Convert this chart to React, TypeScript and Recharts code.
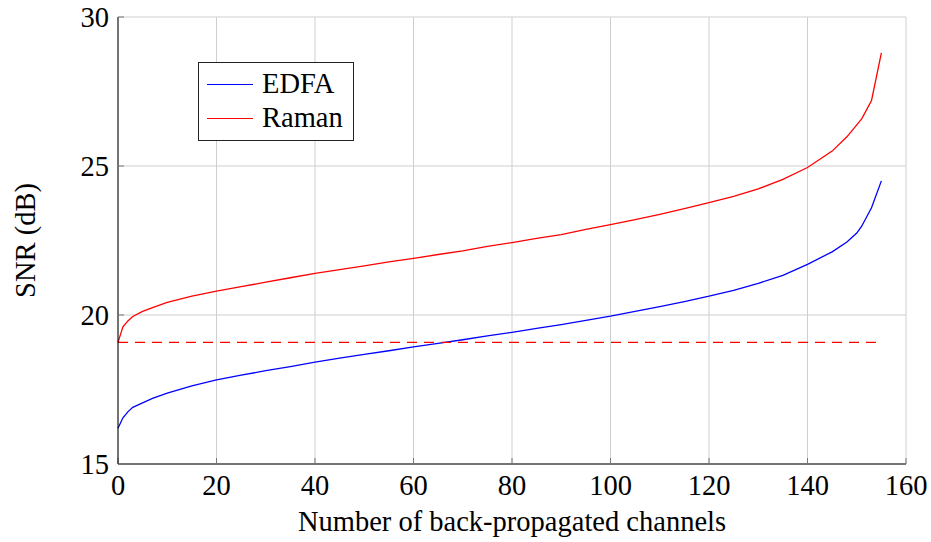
import React from 'react'
import {
  LineChart,
  Line,
  XAxis,
  YAxis,
  CartesianGrid,
} from 'recharts'

// channel counts shared by both amplifier curves
const channels = [
  0, 1, 2, 3, 5, 7, 10, 15, 20, 25, 30, 35, 40, 45, 50, 55, 60, 65, 70, 75, 80,
  85, 90, 95, 100, 105, 110, 115, 120, 125, 130, 135, 140, 145, 148, 150, 151,
  153, 155,
]

const edfaSnr = [
  16.2, 16.55, 16.75, 16.9, 17.05, 17.2, 17.38, 17.62, 17.82, 17.98, 18.13,
  18.27, 18.42, 18.55, 18.68, 18.8, 18.93, 19.05, 19.17, 19.3, 19.42, 19.55,
  19.68, 19.82, 19.96, 20.12, 20.28, 20.45, 20.63, 20.83, 21.06, 21.33, 21.7,
  22.12, 22.45, 22.75, 22.98, 23.6, 24.5,
]

const ramanSnr = [
  19.08, 19.6, 19.8, 19.95, 20.12, 20.25, 20.42, 20.63, 20.8, 20.95, 21.1,
  21.25, 21.4, 21.52, 21.65, 21.78, 21.9, 22.03, 22.15, 22.3, 22.43, 22.57,
  22.7, 22.87, 23.03, 23.2, 23.38, 23.57, 23.77, 23.98, 24.23, 24.55, 24.95,
  25.5, 25.98, 26.38, 26.58, 27.2, 28.8,
]

// no-backpropagation reference level
const thresholdChannels = [0, 155]
const thresholdSnr = [19.08, 19.08]

const xTicks = [0, 20, 40, 60, 80, 100, 120, 140, 160]
const yTicks = [15, 20, 25, 30]

const legendItems = [
  { name: 'EDFA', color: '#0000ff' },
  { name: 'Raman', color: '#ff0000' },
]

const rows = channels.map((c, i) => ({ c, edfa: edfaSnr[i], raman: ramanSnr[i] }))
const threshold = thresholdChannels.map((c, i) => ({ c, ref: thresholdSnr[i] }))

const FONT = '"Times New Roman", "Liberation Serif", "DejaVu Serif", serif'
const FS = 28.5
const tickStyle = { fontSize: FS, fill: '#000', fontFamily: FONT }

function LegendBox() {
  return (
    <div
      style={{
        position: 'absolute',
        left: 198,
        top: 62,
        border: '1.3px solid #222',
        background: '#fff',
        width: 156,
        height: 79,
        boxSizing: 'border-box',
        padding: '4px 0 0 8px',
        fontFamily: FONT,
        fontSize: FS,
        color: '#000',
      }}
    >
      {legendItems.map(it => (
        <div key={it.name} style={{ display: 'flex', alignItems: 'center', height: 34, lineHeight: '34px' }}>
          <span style={{ width: 46, height: 0, borderTop: `1.3px solid ${it.color}`, marginRight: 9 }} />
          <span>{it.name}</span>
        </div>
      ))}
    </div>
  )
}

function YTitle({ viewBox }: any) {
  const cy = viewBox ? viewBox.y + viewBox.height / 2 : 240
  return (
    <text
      x={25}
      y={cy}
      transform={`rotate(-90 25 ${cy})`}
      textAnchor="middle"
      dominantBaseline="central"
      fontFamily={FONT}
      fontSize={FS}
      fill="#000"
    >
      SNR (dB)
    </text>
  )
}

export default function App() {
  return (
    <div style={{ position: 'fixed', top: 0, left: 0, width: 931, height: 542, background: '#fff', fontFamily: FONT }}>
      <LineChart
        width={931}
        height={542}
        data={rows}
        margin={{ top: 17, right: 25, left: 0, bottom: 0 }}
        style={{ fontFamily: FONT }}
      >
        <CartesianGrid stroke="#cfcfcf" strokeWidth={1} />
        <XAxis
          dataKey="c"
          type="number"
          domain={[0, 160]}
          ticks={xTicks}
          height={78}
          stroke="#000"
          tickLine={{ stroke: '#777' }}
          tickSize={-6}
          tickMargin={17}
          tick={tickStyle}
          label={{
            value: 'Number of back-propagated channels',
            position: 'insideBottom',
            offset: 11,
            fontSize: FS,
            fontFamily: FONT,
            fill: '#000',
          }}
        />
        <XAxis
          xAxisId="top"
          dataKey="c"
          type="number"
          orientation="top"
          domain={[0, 160]}
          ticks={xTicks}
          height={0}
          mirror
          stroke="#000"
          tickLine={{ stroke: '#777' }}
          tickSize={6}
          tickFormatter={() => ''}
        />
        <YAxis
          type="number"
          domain={[15, 30]}
          ticks={yTicks}
          width={118}
          stroke="#000"
          tickLine={{ stroke: '#777' }}
          tickSize={-6}
          tickMargin={15}
          tick={tickStyle}
          label={<YTitle />}
        />
        <YAxis
          yAxisId="right"
          type="number"
          orientation="right"
          domain={[15, 30]}
          ticks={yTicks}
          width={0}
          mirror
          stroke="#000"
          tickLine={{ stroke: '#777' }}
          tickSize={6}
          tickFormatter={() => ''}
        />
        <Line
          dataKey="edfa"
          name="EDFA"
          stroke="#0000ff"
          strokeWidth={1.3}
          dot={false}
          isAnimationActive={false}
        />
        <Line
          dataKey="raman"
          name="Raman"
          stroke="#ff0000"
          strokeWidth={1.3}
          dot={false}
          isAnimationActive={false}
        />
        <Line
          data={threshold}
          dataKey="ref"
          stroke="#ff0000"
          strokeWidth={1.3}
          strokeDasharray="10 7"
          dot={false}
          legendType="none"
          isAnimationActive={false}
        />
      </LineChart>
      <LegendBox />
    </div>
  )
}
